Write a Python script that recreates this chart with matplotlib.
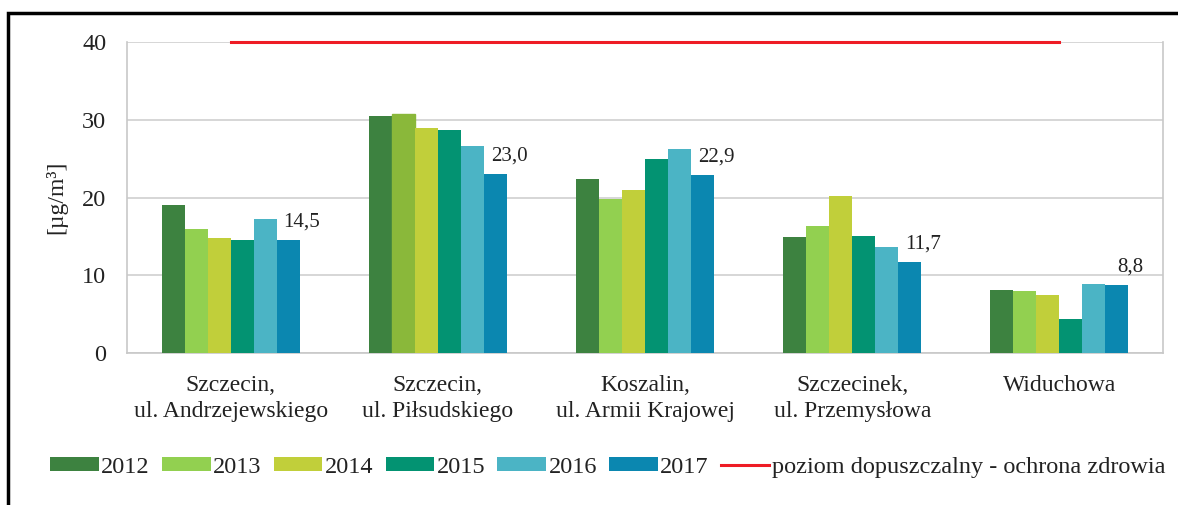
import numpy as np
import matplotlib.pyplot as plt
from matplotlib.patches import Rectangle

plt.rcParams['font.family'] = ['Liberation Serif', 'DejaVu Serif']

# ------------------- DATA -------------------
stations = ['Szczecin,\nul. Andrzejewskiego', 'Szczecin,\nul. Piłsudskiego',
            'Koszalin,\nul. Armii Krajowej', 'Szczecinek,\nul. Przemysłowa', 'Widuchowa']
years = ['2012', '2013', '2014', '2015', '2016', '2017']
v2012 = [19.0, 30.5, 22.4, 14.9, 8.1]
v2013 = [16.0, 30.7, 19.8, 16.3, 8.0]
v2014 = [14.8, 28.9, 21.0, 20.2, 7.5]
v2015 = [14.5, 28.7, 25.0, 15.1, 4.4]
v2016 = [17.2, 26.6, 26.3, 13.6, 8.9]
v2017 = [14.5, 23.0, 22.9, 11.7, 8.8]
labels_2017 = ['14,5', '23,0', '22,9', '11,7', '8,8']
limit = 40

series = [v2012, v2013, v2014, v2015, v2016, v2017]
colors = ['#3d8240', '#92d050', '#c1cf3a', '#039372', '#4bb4c5', '#0b87b0']

# ------------------- PLOT -------------------
fig = plt.figure(figsize=(11.78, 5.05), dpi=100)
ax = fig.add_axes([127 / 1178, 1 - 353 / 505, (1163 - 127) / 1178, (353 - 42) / 505])

x = np.arange(len(stations))
w = 0.111
handles = []
for i, vals in enumerate(series):
    b = ax.bar(x + (i - 2.5) * w, vals, w, color=colors[i], label=years[i], zorder=3)
    handles.append(b)
# 2013 bar in second group is a bit darker in the original
handles[1][1].set_color('#8ab83a')

for xi, val, lab in zip(x, v2017, labels_2017):
    ax.annotate(lab, (xi + 2.5 * w, val), xytext=(10, 6), textcoords='offset points',
                ha='center', va='bottom', fontsize=15, color='#222222')

line, = ax.plot([x[0], x[-1]], [limit, limit], color='#ee1c25', lw=2.2, zorder=4,
                label='poziom dopuszczalny - ochrona zdrowia', clip_on=False)

ax.set_xlim(-0.5, len(stations) - 0.5)
ax.set_ylim(0, 40)
ax.set_yticks([0, 10, 20, 30, 40])
ax.yaxis.grid(True, color='#d0d0d0', lw=1.2, zorder=0)
ax.tick_params(axis='y', length=0, pad=15, labelsize=17.5, labelcolor='#222222')
ax.tick_params(axis='x', length=0, pad=16, labelsize=17, labelcolor='#222222')
ax.set_xticks(x)
ax.set_xticklabels(stations, linespacing=1.3)
for s in ['left', 'right', 'bottom']:
    ax.spines[s].set_color('#c8c8c8')
    ax.spines[s].set_linewidth(1.2)
ax.spines['top'].set_visible(False)
ax.set_ylabel('[µg/m³]', fontsize=17, color='#222222')
ax.yaxis.set_label_coords(-0.058, 0.5)

fig.legend(handles=handles + [line], loc='center', bbox_to_anchor=(0.516, 0.075), ncol=7,
           frameon=False, fontsize=17.5, handlelength=2.0, handleheight=0.5,
           handletextpad=0.1, columnspacing=0.5, labelcolor='#222222')

# outer frame (cut off on the right and bottom)
fig.patches.append(Rectangle((8 / 1178, -0.1), 1.2, 1 - 13 / 505 + 0.1, transform=fig.transFigure,
                             fill=False, edgecolor='black', lw=2.5))

fig.savefig('out.png', dpi=100)
